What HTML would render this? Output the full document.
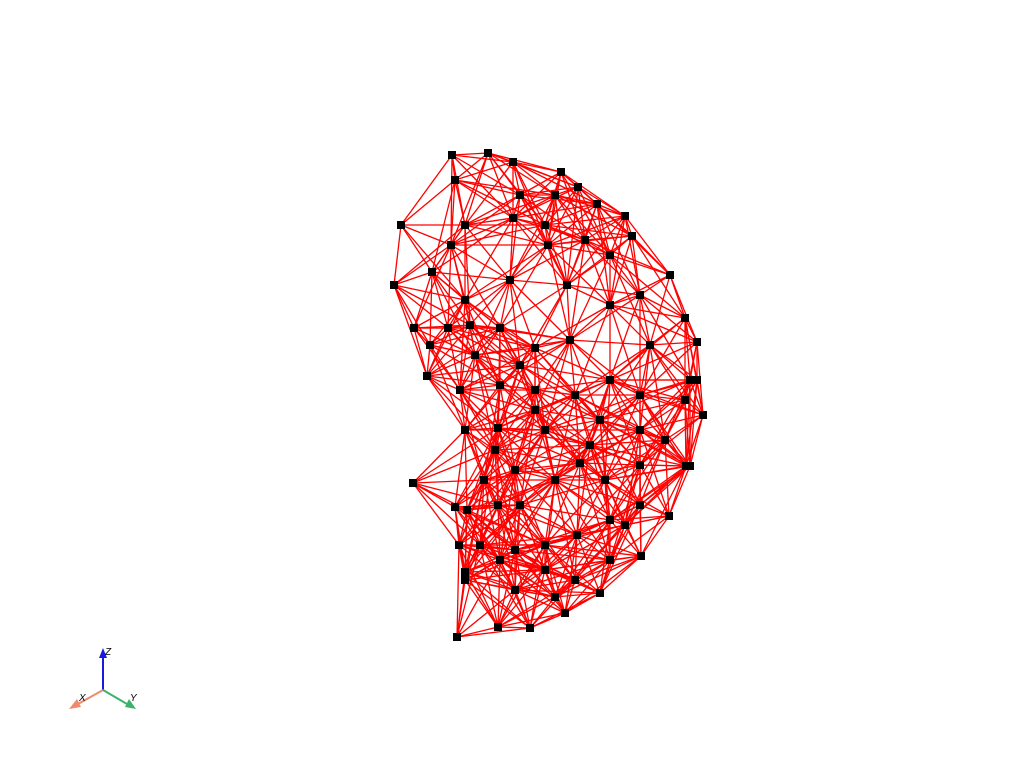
<!DOCTYPE html>
<html><head><meta charset="utf-8">
<style>
html,body{margin:0;padding:0;background:#fff;}
svg{display:block;font-family:"Liberation Sans",sans-serif;}
</style></head>
<body>
<svg id="chart" width="1024" height="768" viewBox="0 0 1024 768">
<rect width="1024" height="768" fill="#fff"/>
<g id="edges"></g>
<g id="nodes"></g>
<g>
  <line x1="103" y1="690" x2="103" y2="656" stroke="#1a1adf" stroke-width="2"/>
  <polygon points="103,648 99,658 107,658" fill="#1a1adf"/>
  <text x="105" y="655" font-size="10" font-style="italic">Z</text>
  <line x1="103" y1="690" x2="78" y2="704" stroke="#f08a6a" stroke-width="2"/>
  <polygon points="69,709 77,699 81,707" fill="#f08a6a"/>
  <text x="79" y="701" font-size="10" font-style="italic">X</text>
  <line x1="103" y1="690" x2="127" y2="704" stroke="#3cb36a" stroke-width="2"/>
  <polygon points="136,709 125,707 129,699" fill="#3cb36a"/>
  <text x="130" y="701" font-size="10" font-style="italic">Y</text>
</g>
</svg>
<script>
// point cloud vertex coordinates (screen-projected)
const nodeX = [452,488,513,561,578,597,625,632,670,685,697,697,703,690,669,641,600,565,530,498,457,
401,394,414,427,413,455,459,465,455,451,465,432,
465,513,545,585,610,548,520,555,510,567,610,640,570,535,500,470,448,460,500,535,575,610,650,690,640,665,640,600,545,498,465,495,515,555,580,605,640,686,640,610,577,545,515,498,520,480,465,500,545,575,610,625,515,555,467,484,535,520,475,430,590,685];
const nodeY = [155,153,162,172,187,204,216,236,275,318,342,380,415,466,516,556,593,613,628,627,637,
225,285,328,376,483,507,545,572,180,245,300,272,
225,218,225,240,255,245,195,195,280,285,305,295,340,348,328,325,328,390,385,390,395,380,345,380,395,440,430,420,430,428,430,450,470,480,463,480,465,466,505,520,535,545,550,505,505,545,580,560,570,580,560,525,590,597,510,480,410,365,355,345,445,400];
const edgeMaxDist = 102;

const NS='http://www.w3.org/2000/svg';
const eg=document.getElementById('edges'), ng=document.getElementById('nodes');
const n=nodeX.length;
for(let i=0;i<n;i++){for(let j=i+1;j<n;j++){
  const dx=nodeX[i]-nodeX[j], dy=nodeY[i]-nodeY[j];
  if(Math.hypot(dx,dy)<edgeMaxDist){
    const l=document.createElementNS(NS,'line');
    l.setAttribute('x1',nodeX[i]);l.setAttribute('y1',nodeY[i]);
    l.setAttribute('x2',nodeX[j]);l.setAttribute('y2',nodeY[j]);
    l.setAttribute('stroke','#f00');l.setAttribute('stroke-width','1.3');
    
    
    eg.appendChild(l);
  }
}}
for(let i=0;i<n;i++){
  const r=document.createElementNS(NS,'rect');
  r.setAttribute('x',nodeX[i]-4);r.setAttribute('y',nodeY[i]-4);
  r.setAttribute('width',8);r.setAttribute('height',8);r.setAttribute('fill','#000');
  
  
  ng.appendChild(r);
}
</script>
</body></html>
